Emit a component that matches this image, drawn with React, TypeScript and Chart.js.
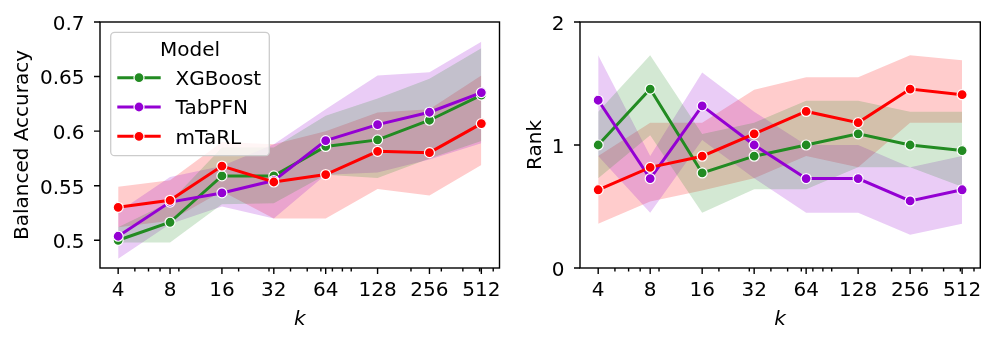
import React, { useEffect, useRef } from 'react';
import { Chart, registerables } from 'chart.js';

Chart.register(...registerables);

// ---------- data ----------
const kValues = [4, 8, 16, 32, 64, 128, 256, 512];
const kMinorTicks = [5, 6, 7, 9, 20, 30, 40, 50, 60, 70, 80, 90, 200, 300, 400, 500, 600];
const models = ['XGBoost', 'TabPFN', 'mTaRL'];

const accXGBoost = [0.500, 0.5165, 0.559, 0.559, 0.586, 0.592, 0.610, 0.633];
const accXGBoostLow = [0.498, 0.498, 0.533, 0.534, 0.560, 0.557, 0.575, 0.591];
const accXGBoostHigh = [0.512, 0.535, 0.585, 0.585, 0.614, 0.630, 0.648, 0.676];

const accTabPFN = [0.5037, 0.535, 0.5434, 0.5547, 0.5913, 0.606, 0.6173, 0.6353];
const accTabPFNLow = [0.483, 0.515, 0.531, 0.520, 0.560, 0.562, 0.574, 0.589];
const accTabPFNHigh = [0.526, 0.558, 0.568, 0.588, 0.620, 0.651, 0.654, 0.682];

const accMTaRL = [0.5302, 0.5366, 0.568, 0.5534, 0.5602, 0.5815, 0.5803, 0.6069];
const accMTaRLLow = [0.512, 0.518, 0.545, 0.520, 0.520, 0.547, 0.541, 0.569];
const accMTaRLHigh = [0.549, 0.555, 0.590, 0.588, 0.600, 0.617, 0.620, 0.651];

const rankXGBoost = [1.0, 1.455, 0.773, 0.909, 1.0, 1.091, 1.0, 0.955];
const rankXGBoostLow = [0.73, 1.08, 0.45, 0.64, 0.64, 0.82, 0.82, 0.66];
const rankXGBoostHigh = [1.27, 1.73, 1.09, 1.18, 1.36, 1.36, 1.27, 1.27];

const rankTabPFN = [1.364, 0.727, 1.318, 1.0, 0.727, 0.727, 0.545, 0.636];
const rankTabPFNLow = [0.91, 0.45, 1.04, 0.73, 0.45, 0.45, 0.27, 0.36];
const rankTabPFNHigh = [1.73, 0.91, 1.59, 1.27, 1.0, 1.0, 0.82, 0.91];

const rankMTaRL = [0.636, 0.818, 0.909, 1.091, 1.273, 1.182, 1.455, 1.409];
const rankMTaRLLow = [0.36, 0.54, 0.63, 0.73, 0.91, 0.82, 1.18, 1.18];
const rankMTaRLHigh = [0.91, 1.18, 1.18, 1.45, 1.55, 1.55, 1.73, 1.69];

const accTicks = [0.5, 0.55, 0.6, 0.65, 0.7];
const rankTicks = [0, 1, 2];

// ---------- styles ----------
const FONT = '"DejaVu Sans", "Liberation Sans", sans-serif';
const modelColors = ['34,139,34', '148,0,211', '255,0,0'];

function buildDatasets(means: number[][], lows: number[][], highs: number[][]) {
  const ds: any[] = [];
  models.forEach((m, i) => {
    const c = modelColors[i];
    ds.push({
      label: m + ' upper',
      data: kValues.map((k, j) => ({ x: k, y: highs[i][j] })),
      borderWidth: 0,
      pointRadius: 0,
      fill: '+1',
      backgroundColor: `rgba(${c},0.2)`,
      borderColor: 'rgba(0,0,0,0)',
      order: 10,
    });
    ds.push({
      label: m + ' lower',
      data: kValues.map((k, j) => ({ x: k, y: lows[i][j] })),
      borderWidth: 0,
      pointRadius: 0,
      fill: false,
      borderColor: 'rgba(0,0,0,0)',
      order: 10,
    });
  });
  models.forEach((m, i) => {
    const c = `rgb(${modelColors[i]})`;
    ds.push({
      label: m,
      data: kValues.map((k, j) => ({ x: k, y: means[i][j] })),
      borderColor: c,
      borderWidth: 3,
      backgroundColor: c,
      pointRadius: 5,
      pointHoverRadius: 5,
      pointBackgroundColor: c,
      pointBorderColor: '#ffffff',
      pointBorderWidth: 1.2,
      fill: false,
      order: 3 - i,
    });
  });
  return ds;
}

const frameAndTicks = {
  id: 'frameAndTicks',
  afterDraw(chart: any) {
    const { ctx, chartArea: a, scales } = chart;
    const xs = scales.x;
    const ys = scales.y;
    ctx.save();
    ctx.strokeStyle = '#000';
    ctx.lineWidth = 1.4;
    ctx.strokeRect(a.left, a.top, a.right - a.left, a.bottom - a.top);
    ctx.beginPath();
    kValues.forEach((v) => {
      const p = xs.getPixelForValue(v);
      ctx.moveTo(p, a.bottom);
      ctx.lineTo(p, a.bottom + 6);
    });
    kMinorTicks.forEach((v) => {
      const p = xs.getPixelForValue(v);
      if (p < a.left || p > a.right) return;
      ctx.moveTo(p, a.bottom);
      ctx.lineTo(p, a.bottom + 3.5);
    });
    ys.ticks.forEach((t: any) => {
      const p = ys.getPixelForValue(t.value);
      ctx.moveTo(a.left, p);
      ctx.lineTo(a.left - 6, p);
    });
    ctx.stroke();
    ctx.restore();
  },
};

const legendPlugin = {
  id: 'modelLegend',
  afterDraw(chart: any) {
    const ctx = chart.ctx;
    ctx.save();
    ctx.beginPath();
    ctx.roundRect(110.7, 32.3, 158.6, 123.4, 4);
    ctx.fillStyle = 'rgba(255,255,255,0.8)';
    ctx.fill();
    ctx.strokeStyle = '#cccccc';
    ctx.lineWidth = 1.3;
    ctx.stroke();
    ctx.font = `20px ${FONT}`;
    ctx.fillStyle = '#000';
    ctx.textBaseline = 'alphabetic';
    ctx.textAlign = 'center';
    ctx.fillText('Model', 190, 56);
    ctx.textAlign = 'left';
    const baselines = [85, 114.3, 143.6];
    models.forEach((m, i) => {
      const c = `rgb(${modelColors[i]})`;
      const y = baselines[i] - 7.3;
      ctx.strokeStyle = c;
      ctx.lineWidth = 3;
      ctx.beginPath();
      ctx.moveTo(117.3, y);
      ctx.lineTo(160.7, y);
      ctx.stroke();
      ctx.beginPath();
      ctx.arc(139, y, 5, 0, Math.PI * 2);
      ctx.fillStyle = c;
      ctx.fill();
      ctx.strokeStyle = '#fff';
      ctx.lineWidth = 1.2;
      ctx.stroke();
      ctx.fillStyle = '#000';
      ctx.fillText(m, 175.5, baselines[i]);
    });
    ctx.restore();
  },
};

function makeConfig(
  datasets: any[],
  yMin: number,
  yMax: number,
  yTicks: number[],
  yTitle: string,
  yWidth: number,
  padRight: number,
  yTitlePad: number,
  plugins: any[]
) {
  const xMin = kValues[0] / Math.pow(2, 0.35);
  const xMax = kValues[kValues.length - 1] * Math.pow(2, 0.35);
  return {
    type: 'line',
    data: { datasets },
    plugins,
    options: {
      responsive: false,
      animation: false,
      devicePixelRatio: 1,
      layout: { padding: { left: 0, right: padRight, top: 22, bottom: 0 } },
      plugins: {
        legend: { display: false },
        tooltip: { enabled: false },
        filler: { propagate: false, drawTime: 'beforeDatasetsDraw' },
      },
      scales: {
        x: {
          type: 'logarithmic',
          min: xMin,
          max: xMax,
          afterBuildTicks: (s: any) => {
            s.ticks = [...kValues, ...kMinorTicks].sort((a, b) => a - b).map((v) => ({ value: v }));
          },
          ticks: {
            autoSkip: false,
            maxRotation: 0,
            minRotation: 0,
            padding: 0,
            color: '#000',
            font: { family: FONT, size: 20 },
            callback: (v: any) => (kValues.includes(Number(v)) ? String(v) : ''),
          },
          grid: { drawOnChartArea: false, drawTicks: true, tickLength: 11, tickColor: 'rgba(0,0,0,0)' },
          border: { display: false },
          title: {
            display: true,
            text: 'k',
            color: '#000',
            font: { family: FONT, size: 20, style: 'italic' },
            padding: { top: 0, bottom: 11.8 },
          },
          afterFit: (s: any) => {
            s.height = 76;
          },
        },
        y: {
          type: 'linear',
          min: yMin,
          max: yMax,
          afterBuildTicks: (s: any) => {
            s.ticks = yTicks.map((v) => ({ value: v }));
          },
          ticks: {
            padding: 0,
            labelOffset: 2.7,
            color: '#000',
            font: { family: FONT, size: 20 },
            callback: (v: any) => String(Number(Number(v).toFixed(2))),
          },
          grid: { drawOnChartArea: false, drawTicks: true, tickLength: 15.5, tickColor: 'rgba(0,0,0,0)' },
          border: { display: false },
          title: {
            display: true,
            text: yTitle,
            color: '#000',
            font: { family: FONT, size: 20 },
            padding: { top: yTitlePad, bottom: 0 },
          },
          afterFit: (s: any) => {
            s.width = yWidth;
          },
        },
      },
    },
  };
}

export default function App() {
  const leftRef = useRef<HTMLCanvasElement | null>(null);
  const rightRef = useRef<HTMLCanvasElement | null>(null);

  useEffect(() => {
    Chart.defaults.font.family = FONT;
    const left = new Chart(
      leftRef.current as HTMLCanvasElement,
      makeConfig(
        buildDatasets(
          [accXGBoost, accTabPFN, accMTaRL],
          [accXGBoostLow, accTabPFNLow, accMTaRLLow],
          [accXGBoostHigh, accTabPFNHigh, accMTaRLHigh]
        ),
        0.4746,
        0.7,
        accTicks,
        'Balanced Accuracy',
        100,
        10.5,
        10.5,
        [frameAndTicks, legendPlugin]
      ) as any
    );
    const right = new Chart(
      rightRef.current as HTMLCanvasElement,
      makeConfig(
        buildDatasets(
          [rankXGBoost, rankTabPFN, rankMTaRL],
          [rankXGBoostLow, rankTabPFNLow, rankMTaRLLow],
          [rankXGBoostHigh, rankTabPFNHigh, rankMTaRLHigh]
        ),
        0,
        2,
        rankTicks,
        'Rank',
        70,
        15.7,
        14.1,
        [frameAndTicks]
      ) as any
    );
    return () => {
      left.destroy();
      right.destroy();
    };
  }, []);

  return (
    <div style={{ position: 'absolute', left: 0, top: 0, width: 996, height: 344, background: '#fff' }}>
      <canvas ref={leftRef} width={510} height={344} style={{ position: 'absolute', left: 0, top: 0 }} />
      <canvas ref={rightRef} width={486} height={344} style={{ position: 'absolute', left: 510, top: 0 }} />
    </div>
  );
}
